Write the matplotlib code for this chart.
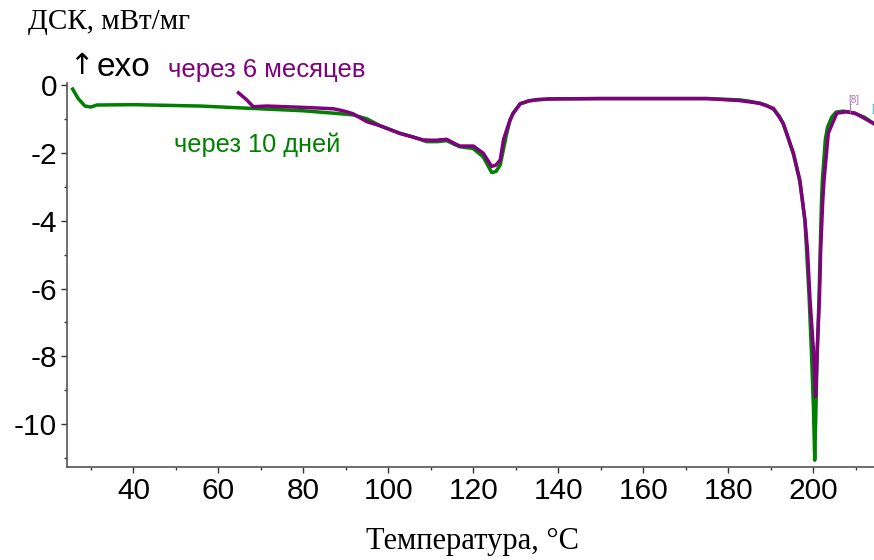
import matplotlib
matplotlib.use("Agg")
from matplotlib import pyplot as plt
from matplotlib.ticker import MultipleLocator

plt.rcParams['axes.unicode_minus'] = False

# DSC curve after 10 days (green)
tGreen = [25.7, 27.0, 28.6, 30.0, 31.4, 40, 55.7, 71.4, 80, 87.0, 91.7, 95, 98.0,
          102.7, 105.8, 109.0, 111.5, 113.7, 115.5, 116.8, 119.9, 122.3, 124.3, 125.3,
          126.3, 127.8, 128.6, 129.3, 131.0, 133, 134.9, 138.1, 150, 160, 175, 182.7,
          185, 187.4, 189, 190.6, 192, 192.9, 194, 195.3, 196.8, 198.0, 198.4, 199.0,
          199.5, 200.0, 200.3, 200.6, 200.9, 201.3, 201.6, 201.9, 202.1, 202.8, 203.3,
          204.3, 205.3, 207.0, 208.5, 209.8, 212, 214.1]
dscGreen = [-0.12, -0.40, -0.62, -0.65, -0.59, -0.58, -0.62, -0.71, -0.76, -0.83, -0.88,
            -1.00, -1.20, -1.42, -1.53, -1.67, -1.67, -1.64, -1.75, -1.82, -1.87, -2.12,
            -2.58, -2.55, -2.36, -1.45, -1.05, -0.83, -0.56, -0.47, -0.44, -0.41, -0.40,
            -0.40, -0.40, -0.44, -0.48, -0.54, -0.60, -0.72, -0.92, -1.15, -1.55, -2.05,
            -2.85, -4.0, -4.9, -6.3, -7.8, -9.5, -11.06, -9.5, -7.82, -6.34, -4.87, -3.39,
            -2.8, -1.6, -1.25, -0.95, -0.80, -0.77, -0.80, -0.84, -0.95, -1.13]

# DSC curve after 6 months (purple)
tPurple = [64.7, 66.5, 68.2, 71.4, 80, 87.0, 88.6, 90.2, 91.7, 94.9, 98.0, 102.7, 108.2,
           111.0, 113.7, 115.5, 116.8, 120.0, 122.3, 124.3, 125.3, 126.3, 127.1, 128.6,
           129.3, 131.0, 133, 134.9, 138.1, 150, 160, 175, 182.7, 187.4, 190.6, 192.9,
           195.3, 196.8, 198.0, 198.6, 199.2, 200.0, 200.4, 200.5, 200.9, 201.4, 201.7,
           202.2, 202.5, 203.5, 205.5, 207.8, 209.8, 214.1]
dscPurple = [-0.23, -0.42, -0.64, -0.62, -0.66, -0.70, -0.74, -0.79, -0.85, -1.08, -1.20,
             -1.43, -1.62, -1.63, -1.60, -1.72, -1.80, -1.80, -2.01, -2.40, -2.36, -2.21,
             -1.60, -1.03, -0.85, -0.55, -0.47, -0.43, -0.41, -0.40, -0.40, -0.40, -0.46,
             -0.54, -0.69, -1.13, -2.01, -2.80, -3.98, -4.87, -6.34, -7.82, -8.9, -9.19,
             -7.82, -6.34, -4.87, -3.39, -2.8, -1.42, -0.83, -0.79, -0.83, -1.13]

green = "#008000"
purple = "#800080"
W, H = 874, 560

fig = plt.figure(figsize=(W / 100, H / 100), dpi=100)
ax = fig.add_axes([66.7 / W, (H - 467.3) / H, (W - 66.7) / W, (467.3 - 83.3) / H])

ax.plot(tGreen, dscGreen, color=green, lw=2.5, solid_joinstyle='round')
ax.plot(tPurple, dscPurple, color=purple, lw=2.5, solid_joinstyle='round')

ax.set_xlim(24.3, 214.25)
ax.set_ylim(-11.27, 0.05)
ax.set_xticks([40, 60, 80, 100, 120, 140, 160, 180, 200])
ax.xaxis.set_minor_locator(MultipleLocator(10))
ax.yaxis.set_major_locator(MultipleLocator(2))
ax.yaxis.set_minor_locator(MultipleLocator(1))

for s in ['top', 'right']:
    ax.spines[s].set_visible(False)
for s in ['left', 'bottom']:
    ax.spines[s].set_color('#555555')
    ax.spines[s].set_linewidth(1.2)

ax.tick_params(which='major', direction='out', length=4, width=1, color='#333333',
               labelsize=21.5, pad=3)
ax.tick_params(which='minor', direction='out', length=2.5, width=1, color='#333333')
for lbl in ax.get_xticklabels() + ax.get_yticklabels():
    lbl.set_family('Liberation Sans')

fig.text(28 / W, 1 - 22 / H, "ДСК, мВт/мг", family='Liberation Serif', fontsize=21,
         ha='left', va='center')
fig.text(472 / W, 1 - 541 / H, "Температура, °C", family='Liberation Serif', fontsize=22,
         ha='center', va='center')
fig.text(69 / W, 1 - 66 / H, "↑", family=['DejaVu Sans'], fontsize=21,
         ha='left', va='center')
fig.text(97 / W, 1 - 67 / H, "exo", family='Liberation Sans', fontsize=24,
         ha='left', va='center')
fig.text(267 / W, 1 - 70 / H, "через 6 месяцев", family='Liberation Sans', fontsize=18.5,
         color=purple, ha='center', va='center')
fig.text(257 / W, 1 - 145 / H, "через 10 дней", family='Liberation Sans', fontsize=18.3,
         color=green, ha='center', va='center')

# instrument markers at the right edge
ax.plot([208.5, 208.5], [-0.54, -0.80], color='#b070c0', lw=0.8)
ax.text(208.3, -0.45, "[8]", fontsize=7, color='#b070c0', family='Liberation Sans',
        ha='left', va='center')
ax.text(213.5, -0.7, "[", fontsize=7, color='#30b0c0', family='Liberation Sans',
        ha='left', va='center')

fig.savefig("out.png", dpi=100)
